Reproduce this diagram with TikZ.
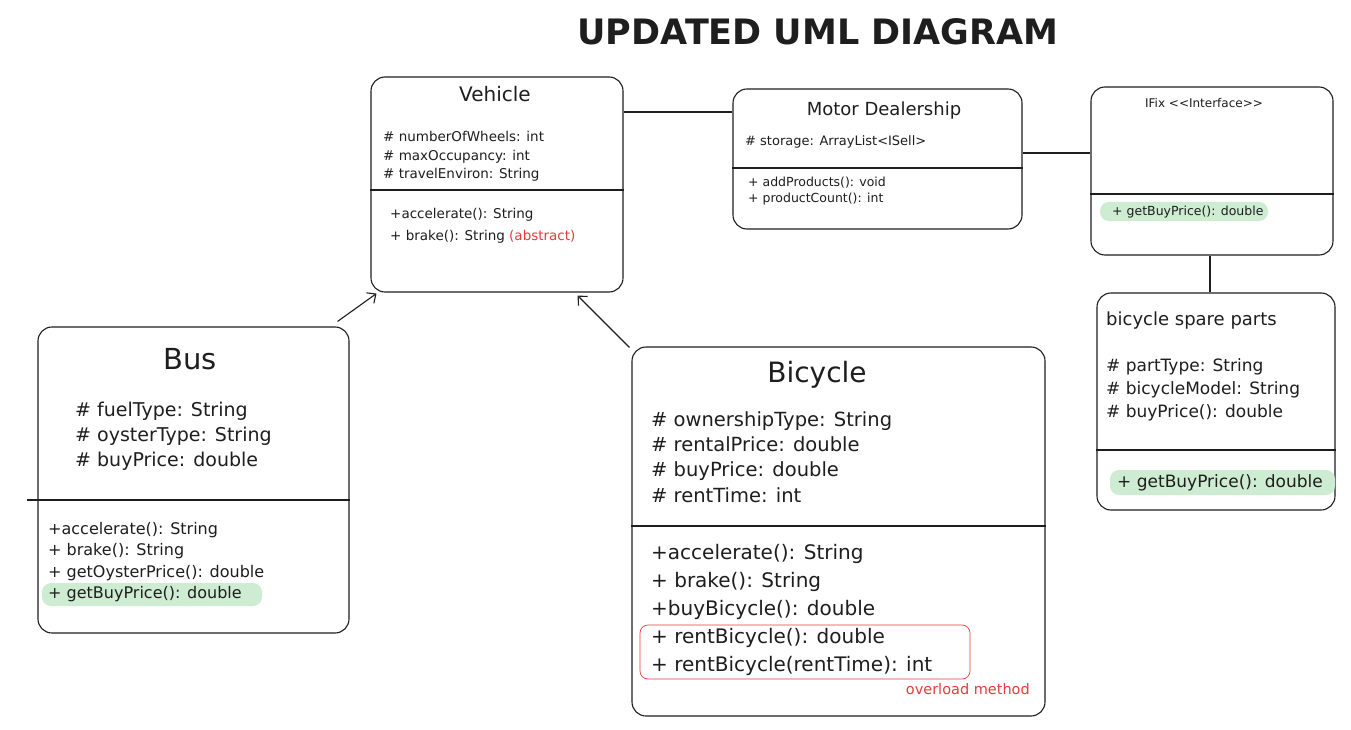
\documentclass[tikz,border=0pt]{standalone}
\usepackage{fontspec}
\setmainfont{DejaVu Sans}
\usetikzlibrary{arrows.meta}
\definecolor{ink}{RGB}{30,30,30}
\definecolor{hl}{RGB}{206,236,209}
\definecolor{redc}{RGB}{230,60,60}
\newcommand{\myfs}[1]{\fontsize{#1}{#1}\selectfont}
\begin{document}
\begin{tikzpicture}[x=1pt,y=-1pt,
  box/.style={draw=ink, line width=1.1pt, rounded corners=14pt, inner sep=0pt},
  tx/.style={anchor=base west, inner sep=0pt, text=ink},
  ttl/.style={anchor=base, inner sep=0pt, text=ink},
  conn/.style={draw=ink, line width=1.1pt},
  arr/.style={conn, -{Straight Barb[length=7pt,width=13pt]}},
  hlbox/.style={fill=hl, rounded corners=9pt}]
\useasboundingbox[fill=white] (0,0) rectangle (1351,730);

% title
\node[ttl, font=\bfseries\myfs{35}] (title) at (818,45) {UPDATED UML DIAGRAM};

% boxes
\node[box, minimum width=252pt, minimum height=215pt] (veh) at (497,184.5) {};
\node[box, minimum width=289pt, minimum height=140pt] (mot) at (877.5,159) {};
\node[box, minimum width=242pt, minimum height=168pt] (ifix) at (1212,171) {};
\node[box, minimum width=238pt, minimum height=217pt] (spare) at (1216,401.5) {};
\node[box, minimum width=311pt, minimum height=306pt] (bus) at (193.5,480) {};
\node[box, minimum width=413pt, minimum height=369pt] (bic) at (838.5,531.5) {};

% highlights
\fill[hlbox] (1100,202) rectangle (1268,221);
\fill[hlbox] (1110,470) rectangle (1335,495);
\fill[hlbox] (42,583) rectangle (262,606);

% dividers
\draw[conn] (veh.west |- 0,190) -- (veh.east |- 0,190);
\draw[conn] (mot.west |- 0,168) -- (mot.east |- 0,168);
\draw[conn] (ifix.west |- 0,194) -- (ifix.east |- 0,194);
\draw[conn] (spare.west |- 0,450) -- (spare.east |- 0,450);
\draw[conn] (27,500) -- (bus.east |- 0,500);
\draw[conn] (bic.west |- 0,526) -- (bic.east |- 0,526);

% Vehicle
\node[ttl, font=\myfs{20}] (vehT) at (495,102) {Vehicle};
\node[tx, font=\myfs{13.5}] (va1) at (383,141.5) {\# numberOfWheels: int};
\node[tx, font=\myfs{13.5}] (va2) at (383,160.5) {\# maxOccupancy: int};
\node[tx, font=\myfs{13.5}] (va3) at (383,178.5) {\# travelEnviron: String};
\node[tx, font=\myfs{13.5}] (vm1) at (390,218.5) {+accelerate(): String};
\node[tx, font=\myfs{13.5}] (vm2) at (390,240.5) {+ brake(): String \textcolor{redc}{\myfs{13.5}(abstract)}};

% Motor Dealership
\node[ttl, font=\myfs{18}] (motT) at (884,116) {Motor Dealership};
\node[tx, font=\myfs{13}] (ma1) at (745,146) {\# storage: ArrayList<ISell>};
\node[tx, font=\myfs{12.5}] (mm1) at (748,186) {+ addProducts(): void};
\node[tx, font=\myfs{12.5}] (mm2) at (748,202) {+ productCount(): int};

% IFix
\node[ttl, font=\myfs{12}] (ifT) at (1204,108) {IFix {<}{<}Interface{>}{>}};
\node[tx, font=\myfs{12.5}] (im1) at (1112,215.5) {+ getBuyPrice(): double};

% bicycle spare parts
\node[tx, font=\myfs{18}] (spT) at (1106,325.5) {bicycle spare parts};
\node[tx, font=\myfs{17}] (sa1) at (1106,371.5) {\# partType: String};
\node[tx, font=\myfs{17}] (sa2) at (1106,394.5) {\# bicycleModel: String};
\node[tx, font=\myfs{17}] (sa3) at (1106,417.5) {\# buyPrice(): double};
\node[tx, font=\myfs{17}] (sm1) at (1117,487.5) {+ getBuyPrice(): double};

% Bus
\node[ttl, font=\myfs{29}] (busT) at (190,369) {Bus};
\node[tx, font=\myfs{19}] (ba1) at (75,416) {\# fuelType: String};
\node[tx, font=\myfs{19}] (ba2) at (75,441) {\# oysterType: String};
\node[tx, font=\myfs{19}] (ba3) at (75,466) {\# buyPrice: double};
\node[tx, font=\myfs{16}] (bm1) at (48,534) {+accelerate(): String};
\node[tx, font=\myfs{16}] (bm2) at (48,555) {+ brake(): String};
\node[tx, font=\myfs{16}] (bm3) at (48,577) {+ getOysterPrice(): double};
\node[tx, font=\myfs{16}] (bm4) at (48,598) {+ getBuyPrice(): double};

% Bicycle
\node[ttl, font=\myfs{28}] (bicT) at (817,382) {Bicycle};
\node[tx, font=\myfs{19.5}] (ca1) at (651,426.5) {\# ownershipType: String};
\node[tx, font=\myfs{19.5}] (ca2) at (651,451.5) {\# rentalPrice: double};
\node[tx, font=\myfs{19.5}] (ca3) at (651,476.5) {\# buyPrice: double};
\node[tx, font=\myfs{19.5}] (ca4) at (651,502.5) {\# rentTime: int};
\node[tx, font=\myfs{20}] (cm1) at (651,559.5) {+accelerate(): String};
\node[tx, font=\myfs{20}] (cm2) at (651,587.5) {+ brake(): String};
\node[tx, font=\myfs{20}] (cm3) at (651,615.5) {+buyBicycle(): double};
\node[tx, font=\myfs{20}] (cm4) at (651,643.5) {+ rentBicycle(): double};
\node[tx, font=\myfs{20}] (cm5) at (651,671.5) {+ rentBicycle(rentTime): int};
\draw[redc, line width=0.7pt, rounded corners=8pt] (640,625) rectangle (970,679);
\node[anchor=base east, inner sep=0pt, text=redc, font=\myfs{14.5}] (ovl) at (1030,694) {overload method};

% connectors
\draw[conn] (veh.east |- 0,112) -- (mot.west |- 0,112);
\draw[conn] (mot.east |- 0,153) -- (ifix.west |- 0,153);
\draw[conn] (1210,0 |- ifix.south) -- (1210,0 |- spare.north);
\draw[arr] ([shift={(-12,-5)}]bus.north east) -- ([shift={(6,1)}]veh.south west);
\draw[arr] ([shift={(-2,1)}]bic.north west) -- ([shift={(-46,3)}]veh.south east);
\end{tikzpicture}
\end{document}
